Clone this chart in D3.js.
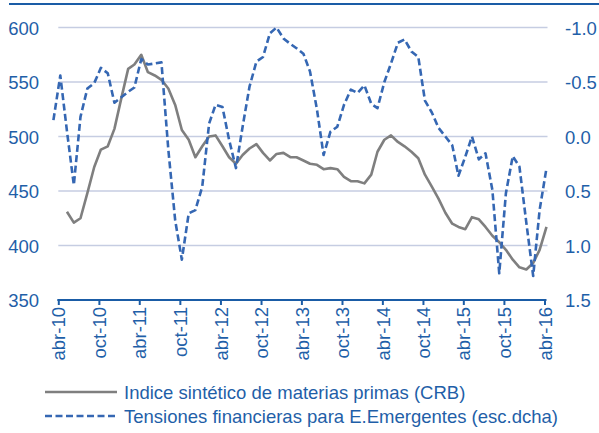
<!DOCTYPE html>
<html>
<head>
<meta charset="utf-8">
<script src="https://cdn.jsdelivr.net/npm/d3@7"></script>
<style>
  body { margin: 0; background: #fff; }
  svg { display: block; font-family: "Liberation Sans", Arial, sans-serif; }
</style>
</head>
<body>
<svg id="chart" width="599" height="433"></svg>
<script>
// monthly CRB index, may-10 .. abr-16
var crbValues = [431, 421, 425, 448, 472, 488, 491, 507, 535, 562, 566, 575,
  559, 556, 552, 544, 529, 506, 497, 481, 491, 500, 501, 491,
  481, 475, 483, 489, 493, 485, 478, 484, 485, 481, 481, 478,
  475, 474, 470, 471, 470, 463, 459, 459, 457, 465, 486, 497,
  501, 495, 491, 486, 480, 465, 454, 443, 430, 420, 417, 415,
  426, 424, 417, 409, 403, 396, 387, 380, 378, 384, 396, 417];

// monthly EM financial stress (right axis), mar-10 .. abr-16
var tensionValues = [-0.15, -0.56, -0.05, 0.445, -0.18, -0.44, -0.49, -0.63, -0.58, -0.31,
  -0.36, -0.41, -0.45, -0.71, -0.66, -0.67, -0.68, 0.12, 0.77, 1.13,
  0.705, 0.675, 0.46, -0.12, -0.29, -0.27, 0.03, 0.29, -0.09, -0.457,
  -0.686, -0.73, -0.947, -1.0, -0.90, -0.85, -0.81, -0.76, -0.595, -0.25,
  0.17, -0.044, -0.09, -0.29, -0.43, -0.40, -0.47, -0.30, -0.26, -0.50,
  -0.67, -0.86, -0.89, -0.78, -0.73, -0.33, -0.22, -0.08, 0.0, 0.08,
  0.36, 0.185, 0.0, 0.21, 0.154, 0.49, 1.255, 0.52, 0.18, 0.277,
  0.79, 1.28, 0.674, 0.29];

var tickLabels = ["abr-10", "oct-10", "abr-11", "oct-11", "abr-12", "oct-12", "abr-13",
  "oct-13", "abr-14", "oct-14", "abr-15", "oct-15", "abr-16"];
var leftTicks = [350, 400, 450, 500, 550, 600];
var rightTicks = [-1.0, -0.5, 0.0, 0.5, 1.0, 1.5];
var legendLabels = ["Indice sintético de materias primas (CRB)",
  "Tensiones financieras para E.Emergentes (esc.dcha)"];

var blueText = "#1f5fa8",
  gridColor = "#c6cde2",
  grayLine = "#7f7f7f",
  dashBlue = "#3567b3";

var svg = d3.select("#chart");
var plotLeft = 58.3, plotRight = 544.5, plotTop = 27.5, plotBottom = 300;

var crb = crbValues.map(function(v, i) { return {date: new Date(2010, 4 + i, 10), v: v}; });
var tension = tensionValues.map(function(v, i) { return {date: new Date(2010, 2 + i, 10), v: v}; });
var tickDates = tickLabels.map(function(d, i) { return new Date(2010, 3 + 6 * i, 1); });

var x = d3.scaleTime()
  .domain([tickDates[0], tickDates[tickDates.length - 1]])
  .range([plotLeft, plotRight]);
var yL = d3.scaleLinear().domain([350, 600]).range([plotBottom, plotTop]);
var yR = d3.scaleLinear().domain([1.5, -1.0]).range([plotBottom, plotTop]);

// top rule
svg.append("line")
  .attr("x1", 9).attr("x2", 599).attr("y1", 4).attr("y2", 4)
  .attr("stroke", "#1a5ca6").attr("stroke-width", 2);

// gridlines
svg.append("g").selectAll("line")
  .data(leftTicks.slice(1)).enter().append("line")
  .attr("x1", plotLeft).attr("x2", plotRight + 3)
  .attr("y1", function(d) { return yL(d); })
  .attr("y2", function(d) { return yL(d); })
  .attr("stroke", gridColor).attr("stroke-width", 1.6);

// left axis
var gl = svg.append("g")
  .attr("transform", "translate(39,0)")
  .call(d3.axisLeft(yL).tickValues(leftTicks).tickSize(0).tickPadding(0));
gl.select(".domain").remove();
gl.selectAll("text").attr("fill", blueText).style("font-size", "18.5px").attr("dy", "0.36em");

// right axis
var gr = svg.append("g")
  .attr("transform", "translate(565,0)")
  .call(d3.axisRight(yR).tickValues(rightTicks).tickSize(0).tickPadding(0)
    .tickFormat(function(d) { return d.toFixed(1); }));
gr.select(".domain").remove();
gr.selectAll("text").attr("fill", blueText).style("font-size", "18.5px").attr("dy", "0.36em");

// bottom axis
var gx = svg.append("g")
  .attr("transform", "translate(0," + plotBottom + ")")
  .call(d3.axisBottom(x).tickValues(tickDates).tickSize(5).tickSizeOuter(0)
    .tickFormat(function(d, i) { return tickLabels[i]; }));
gx.select(".domain").attr("stroke", "#1a5ca6").attr("stroke-width", 2.2)
  .attr("d", "M" + (plotLeft - 1) + ",0H" + (plotRight + 2));
gx.selectAll(".tick line").attr("stroke", "#1a5ca6").attr("stroke-width", 2);
gx.selectAll("text")
  .attr("fill", blueText).style("font-size", "18.5px")
  .attr("transform", "rotate(-90)")
  .attr("text-anchor", "end")
  .attr("x", -7).attr("y", 0).attr("dy", "0.36em");

// series
var lineL = d3.line().x(function(d) { return x(d.date); }).y(function(d) { return yL(d.v); });
var lineR = d3.line().x(function(d) { return x(d.date); }).y(function(d) { return yR(d.v); });

svg.append("path").datum(crb)
  .attr("d", lineL).attr("fill", "none")
  .attr("stroke", grayLine).attr("stroke-width", 2.6).attr("stroke-linejoin", "round");

svg.append("path").datum(tension)
  .attr("d", lineR).attr("fill", "none")
  .attr("stroke", dashBlue).attr("stroke-width", 2.6)
  .attr("stroke-dasharray", "7,3.5").attr("stroke-linejoin", "round");

// legend
var legend = svg.append("g");
legendLabels.forEach(function(label, i) {
  var ly = 392 + i * 24;
  legend.append("line")
    .attr("x1", 45).attr("x2", 117).attr("y1", ly).attr("y2", ly)
    .attr("stroke", i === 0 ? grayLine : dashBlue).attr("stroke-width", 2.6)
    .attr("stroke-dasharray", i === 0 ? null : "7,3.5");
  legend.append("text")
    .attr("x", 124).attr("y", ly).attr("dy", "0.36em")
    .attr("fill", blueText).style("font-size", "18.5px")
    .text(label);
});
</script>
</body>
</html>
